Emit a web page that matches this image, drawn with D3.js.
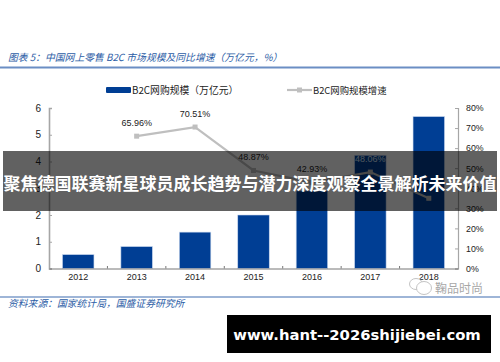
<!DOCTYPE html>
<html><head><meta charset="utf-8">
<script src="https://cdn.jsdelivr.net/npm/d3@7"></script>
<style>html,body{margin:0;padding:0;background:#fff}svg{display:block}</style>
</head><body><svg id="c" width="500" height="362"></svg>
<script>
const years=["2012","2013","2014","2015","2016","2017","2018"];
const scaleValues=[0.52,0.82,1.36,2.0,2.9,4.23,5.68];
const growthYears=["2013","2014","2015","2016","2017","2018"];
const growthValues=[65.96,70.51,48.87,42.93,48.06,35.0];
const growthLabels=["65.96%","70.51%","48.87%","42.93%","48.06%",""];
const leftTicks=[0,1,2,3,4,5,6];
const rightTicks=[0,10,20,30,40,50,60,70,80];
const seriesNames=["B2C网购规模（万亿元）","B2C网购规模增速"];
const titleText="图表 5：中国网上零售 B2C 市场规模及同比增速（万亿元，%）";
const sourceText="资料来源：国家统计局，国盛证券研究所";
const bannerText="聚焦德国联赛新星球员成长趋势与潜力深度观察全景解析未来价值";
const urlText="www.hant--2026shijiebei.com";
const watermarkText="鞠品时尚";

const svg=d3.select("#c");
const cjk="'Noto Sans CJK SC','Liberation Sans',sans-serif";
const lat="'Liberation Sans',Arial,sans-serif";
const blue="#003e94", grey="#bfbfbf", axisGrey="#a6a6a6", txt="#222";
const x=d3.scaleBand().domain(years).range([49,458]);
const yL=d3.scaleLinear().domain([0,6]).range([268.5,108]);
const yR=d3.scaleLinear().domain([0,80]).range([268.5,108]);

// header and footer
svg.append("text").attr("x",8).attr("y",61).attr("font-family",cjk).attr("font-style","italic")
  .attr("font-size",9.8).attr("fill","#2c5da6").text(titleText);
svg.append("rect").attr("x",0).attr("y",66.5).attr("width",500).attr("height",2).attr("fill","#6b8ec4");
svg.append("rect").attr("x",0).attr("y",296.5).attr("width",500).attr("height",1).attr("fill","#3e6cb0");
svg.append("text").attr("x",8).attr("y",307).attr("font-family",cjk).attr("font-style","italic")
  .attr("font-size",9.8).attr("fill","#2c5da6").text(sourceText);

// bars
svg.append("g").selectAll("rect").data(years).join("rect")
  .attr("x",d=>x(d)+x.bandwidth()/2-15.75).attr("width",31.5)
  .attr("y",(d,i)=>yL(scaleValues[i])).attr("height",(d,i)=>yL(0)-yL(scaleValues[i]))
  .attr("fill",blue).attr("stroke","#c9d8ee").attr("stroke-width",.6);

// axes
const style=(g,size)=>{g.selectAll("path,line").attr("stroke",axisGrey);
  g.selectAll("text").attr("font-family",lat).attr("font-size",size).attr("fill",txt);};
const gL=svg.append("g").attr("transform","translate(49,0)")
  .call(d3.axisLeft(yL).tickValues(leftTicks).tickSize(-3).tickSizeOuter(-3).tickPadding(8).tickFormat(d3.format("d"))).call(style,10);
gL.select("path").attr("stroke-width",1.6);
const gR=svg.append("g").attr("transform","translate(458,0)")
  .call(d3.axisRight(yR).tickValues(rightTicks).tickSize(-3).tickSizeOuter(-3).tickPadding(8).tickFormat(d=>d+"%")).call(style,8.8);
gR.select("path").attr("stroke-width",1.2);
const gB=svg.append("g").attr("transform","translate(0,268.5)")
  .call(d3.axisBottom(x).tickSize(0).tickPadding(5)).call(style,9);
gB.select("path").attr("stroke","#777").attr("stroke-width",1);
svg.append("g").selectAll("line").data(years.slice(1)).join("line")
  .attr("x1",d=>x(d)).attr("x2",d=>x(d)).attr("y1",268.5).attr("y2",266).attr("stroke","#777");

// growth line
const cx=d=>x(d)+x.bandwidth()/2;
const line=d3.line().x(d=>cx(d)).y((d,i)=>yR(growthValues[i]));
svg.append("path").datum(growthYears).attr("d",line).attr("fill","none").attr("stroke",grey).attr("stroke-width",2.2);
svg.append("g").selectAll("rect").data(growthYears).join("rect")
  .attr("x",d=>cx(d)-2.5).attr("y",(d,i)=>yR(growthValues[i])-2.5).attr("width",5).attr("height",5).attr("fill",grey);
svg.append("g").selectAll("text").data(growthYears).join("text")
  .attr("x",cx).attr("y",(d,i)=>yR(growthValues[i])-10)
  .attr("text-anchor","middle").attr("font-family",lat).attr("font-size",9)
  .attr("fill",(d,i)=>i===4?"#cfe0f5":txt).text((d,i)=>growthLabels[i]);

// legend
svg.append("rect").attr("x",106).attr("y",87).attr("width",25).attr("height",6).attr("rx",1).attr("fill",blue);
svg.append("text").attr("x",132).attr("y",93.5).attr("font-family",cjk).attr("font-size",9.8).attr("fill",txt).text(seriesNames[0]);
svg.append("line").attr("x1",287).attr("x2",312).attr("y1",90).attr("y2",90).attr("stroke",grey).attr("stroke-width",2.2);
svg.append("rect").attr("x",297).attr("y",87.5).attr("width",5).attr("height",5).attr("fill",grey);
svg.append("text").attr("x",313).attr("y",93.5).attr("font-family",cjk).attr("font-size",9.4).attr("fill",txt).text(seriesNames[1]);

// watermark
const wm=svg.append("g").attr("fill","#fff").attr("stroke","#c4c4c4").attr("stroke-width",1);
wm.append("ellipse").attr("cx",416).attr("cy",284).attr("rx",6.5).attr("ry",5.5);
wm.append("ellipse").attr("cx",424).attr("cy",288).attr("rx",7.5).attr("ry",6.5);
svg.append("text").attr("x",435).attr("y",293).attr("font-family",cjk).attr("font-size",12).attr("fill","#a8a8a8").text(watermarkText);

// banner
svg.append("rect").attr("x",3).attr("y",151).attr("width",494).attr("height",60).attr("fill","#000").attr("fill-opacity",.62);
svg.append("text").attr("x",250).attr("y",190).attr("text-anchor","middle").attr("font-family",cjk)
  .attr("font-weight",700).attr("font-size",17).attr("fill","#fff").text(bannerText);

// url box
svg.append("rect").attr("x",227).attr("y",315).attr("width",264).attr("height",38).attr("fill","#000");
svg.append("text").attr("x",357).attr("y",340).attr("text-anchor","middle").attr("font-family","'DejaVu Sans',sans-serif")
  .attr("font-weight",700).attr("font-size",14.8).attr("fill","#fff").text(urlText);
</script></body></html>
